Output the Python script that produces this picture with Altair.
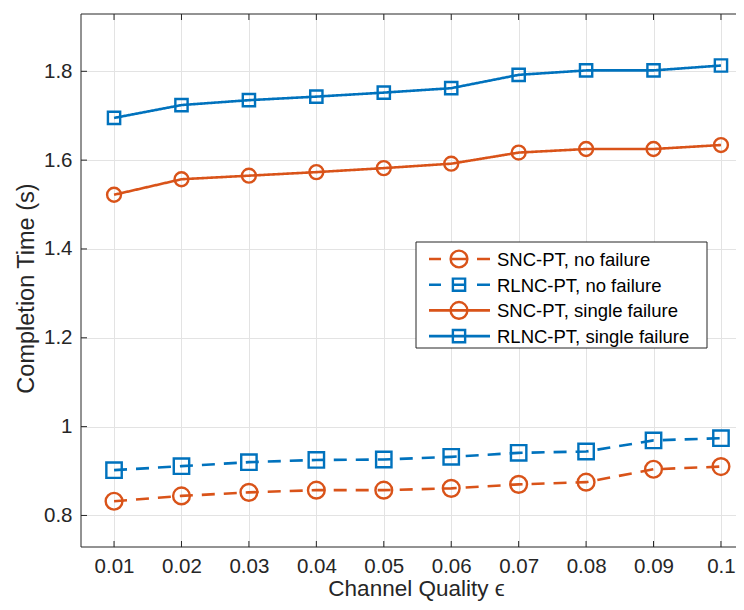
import altair as alt
import pandas as pd

# ---------------- data ----------------
eps = [0.01, 0.02, 0.03, 0.04, 0.05, 0.06, 0.07, 0.08, 0.09, 0.10]
snc_no_failure = [0.832, 0.844, 0.852, 0.857, 0.857, 0.861, 0.870, 0.875, 0.904, 0.910]
rlnc_no_failure = [0.902, 0.911, 0.920, 0.925, 0.926, 0.932, 0.941, 0.944, 0.969, 0.974]
snc_single_failure = [1.522, 1.557, 1.565, 1.573, 1.582, 1.592, 1.617, 1.625, 1.625, 1.634]
rlnc_single_failure = [1.695, 1.724, 1.735, 1.743, 1.752, 1.762, 1.792, 1.802, 1.802, 1.813]

series_names = ["SNC-PT, no failure", "RLNC-PT, no failure",
                "SNC-PT, single failure", "RLNC-PT, single failure"]
series_values = [snc_no_failure, rlnc_no_failure, snc_single_failure, rlnc_single_failure]
series_colors = ["#D95319", "#0072BD", "#D95319", "#0072BD"]
series_dash = [[13, 9], [13, 9], [1, 0], [1, 0]]
series_shape = ["circle", "square", "circle", "square"]
series_size = [280, 150, 280, 150]

x_ticks = [0.01, 0.02, 0.03, 0.04, 0.05, 0.06, 0.07, 0.08, 0.09, 0.10]
y_ticks = [0.8, 1.0, 1.2, 1.4, 1.6, 1.8]

rows = []
for name, vals in zip(series_names, series_values):
    for e, v in zip(eps, vals):
        rows.append({"eps": e, "time": v, "series": name})
df = pd.DataFrame(rows)

W, H = 655, 533
FONT = "Liberation Sans"
AX = "#262626"

x_scale = alt.Scale(domain=[0.0051, 0.10223], nice=False, zero=False)
y_scale = alt.Scale(domain=[0.729, 1.929], nice=False, zero=False)

color_scale = alt.Scale(domain=series_names, range=series_colors)
dash_scale = alt.Scale(domain=series_names, range=series_dash)
shape_scale = alt.Scale(domain=series_names, range=series_shape)
size_scale = alt.Scale(domain=series_names, range=series_size)

x_axis = alt.Axis(values=x_ticks, format="~g", grid=True, ticks=False, domain=False,
                  labelFontSize=20.5, labelPadding=9, labelColor=AX, labelFont=FONT,
                  title="Channel Quality ϵ", titleFontSize=22.5, titleFont=FONT,
                  titleColor=AX, titleFontWeight="normal",
                  titleX=335, titleY=48, titleBaseline="alphabetic", titleAlign="center")
y_axis = alt.Axis(values=y_ticks, format="~g", grid=True, ticks=False, domain=False,
                  labelFontSize=20.5, labelPadding=9, labelColor=AX, labelFont=FONT,
                  title="Completion Time (s)", titleFontSize=23.5, titleFont=FONT,
                  titleColor=AX, titleFontWeight="normal",
                  titleX=-55, titleY=274, titleBaseline="middle", titleAlign="center",
                  titleAngle=-90)

base = alt.Chart(df).encode(
    x=alt.X("eps:Q", scale=x_scale, axis=x_axis),
    y=alt.Y("time:Q", scale=y_scale, axis=y_axis),
)

lines = base.mark_line(strokeWidth=2.6).encode(
    color=alt.Color("series:N", scale=color_scale, legend=None),
    strokeDash=alt.StrokeDash("series:N", scale=dash_scale, legend=None),
    detail="series:N",
)
points = base.mark_point(filled=False, strokeWidth=2.4, opacity=1).encode(
    color=alt.Color("series:N", scale=color_scale, legend=None),
    shape=alt.Shape("series:N", scale=shape_scale, legend=None),
    size=alt.Size("series:N", scale=size_scale, legend=None),
)

# inward ticks and box edges (MATLAB style; right edge is cut off in the reference)
xt = pd.DataFrame({"eps": x_ticks})
yt = pd.DataFrame({"time": y_ticks})
one = pd.DataFrame({"k": [0]})
frame = [
    alt.Chart(one).mark_rule(color=AX, strokeWidth=1).encode(
        x=alt.value(0), x2=alt.value(W), y=alt.value(0)),
    alt.Chart(one).mark_rule(color=AX, strokeWidth=1).encode(
        x=alt.value(0), x2=alt.value(W), y=alt.value(H)),
    alt.Chart(one).mark_rule(color=AX, strokeWidth=1).encode(
        x=alt.value(0), y=alt.value(0), y2=alt.value(H)),
]
xtick_bottom = alt.Chart(xt).mark_rule(color=AX, strokeWidth=1).encode(
    x=alt.X("eps:Q", scale=x_scale), y=alt.value(H), y2=alt.value(H - 6))
xtick_top = alt.Chart(xt).mark_rule(color=AX, strokeWidth=1).encode(
    x=alt.X("eps:Q", scale=x_scale), y=alt.value(0), y2=alt.value(6))
ytick_left = alt.Chart(yt).mark_rule(color=AX, strokeWidth=1).encode(
    y=alt.Y("time:Q", scale=y_scale), x=alt.value(0), x2=alt.value(6))

# custom legend box (layout only)
leg_x0, leg_x1, leg_y0, leg_y1 = 335, 626, 228, 334
legend_layers = [
    alt.Chart(one).mark_rect(fill="white", stroke=AX, strokeWidth=1).encode(
        x=alt.value(leg_x0), x2=alt.value(leg_x1), y=alt.value(leg_y0), y2=alt.value(leg_y1))
]
leg_line_dash = {0: [12, 11, 14, 11, 13], 1: [12, 11, 14, 11, 13], 2: [1, 0], 3: [1, 0]}
for i, name in enumerate(series_names):
    yy = 245 + 25.7 * i
    legend_layers.append(
        alt.Chart(one).mark_rule(color=series_colors[i], strokeWidth=2.6,
                                 strokeDash=leg_line_dash[i]).encode(
            x=alt.value(348), x2=alt.value(409), y=alt.value(yy)))
    legend_layers.append(
        alt.Chart(one).mark_point(filled=False, strokeWidth=2.4, opacity=1,
                                  color=series_colors[i], shape=series_shape[i],
                                  size=series_size[i]).encode(
            x=alt.value(378), y=alt.value(yy)))
    legend_layers.append(
        alt.Chart(one).mark_text(align="left", baseline="middle", fontSize=18.5,
                                 font=FONT, color="black").encode(
            x=alt.value(416), y=alt.value(yy + 1), text=alt.value(name)))

chart = alt.layer(
    lines, points, *frame, xtick_bottom, xtick_top, ytick_left, *legend_layers
).properties(
    width=W, height=H,
    autosize=alt.AutoSizeParams(type="none"),
    padding={"left": 73, "top": 6, "right": 0, "bottom": 55},
).configure_view(
    stroke=None
).configure_axis(
    gridColor="#e3e3e3", gridWidth=1
)

chart.save("out.html", embed_options={"renderer": "svg", "actions": False})
